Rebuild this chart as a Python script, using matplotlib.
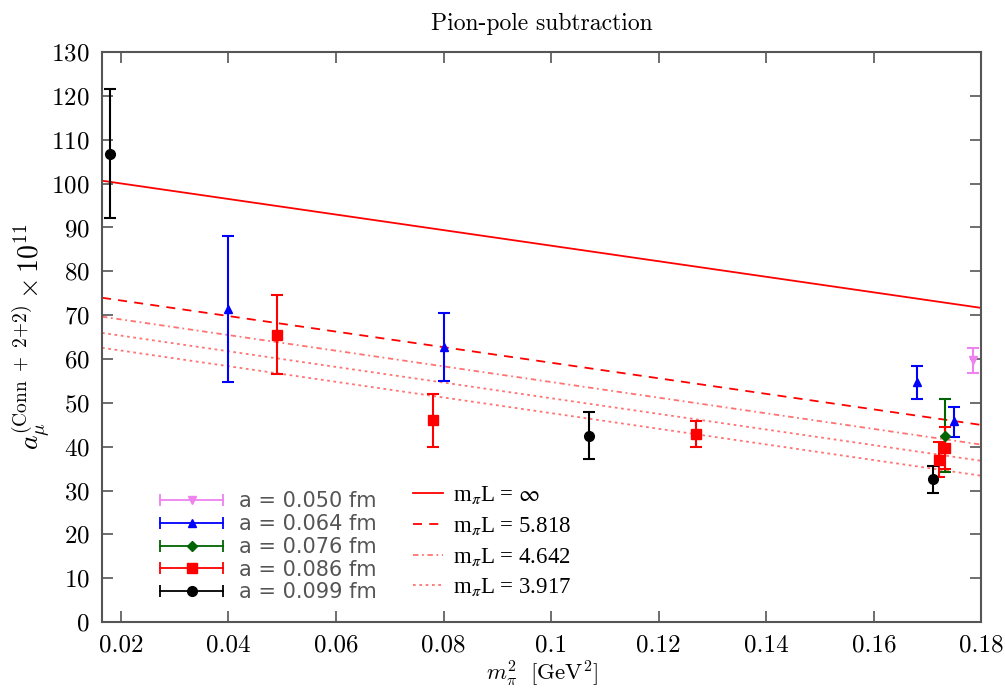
import matplotlib
matplotlib.use("Agg")
import matplotlib.pyplot as plt
from matplotlib.font_manager import FontProperties
from matplotlib.ticker import FuncFormatter
from matplotlib.legend_handler import HandlerBase
from matplotlib.lines import Line2D
from matplotlib.container import ErrorbarContainer
import numpy as np

plt.rcParams['mathtext.fontset'] = 'cm'
plt.rcParams['axes.formatter.use_mathtext'] = True

# data per lattice spacing: x = m_pi^2, y, lower err, upper err
ens_labels = ["a = 0.050 fm", "a = 0.064 fm", "a = 0.076 fm", "a = 0.086 fm", "a = 0.099 fm"]
ens_colors = ["violet", "blue", "darkgreen", "red", "black"]
ens_markers = ["v", "^", "D", "s", "o"]
ens_msize = [6, 6, 5, 7, 7]

x_050 = [0.1785]
y_050 = [59.8]
elo_050 = [3.0]
ehi_050 = [2.8]

x_064 = [0.040, 0.080, 0.168, 0.175]
y_064 = [71.5, 62.8, 54.8, 45.8]
elo_064 = [16.7, 7.9, 3.9, 3.6]
ehi_064 = [16.5, 7.6, 3.6, 3.2]

x_076 = [0.1733]
y_076 = [42.5]
elo_076 = [8.3]
ehi_076 = [8.3]

x_086 = [0.049, 0.078, 0.127, 0.1722, 0.1732]
y_086 = [65.5, 46.0, 42.9, 37.0, 39.7]
elo_086 = [9.0, 6.0, 3.0, 4.0, 4.8]
ehi_086 = [9.0, 6.0, 3.0, 4.0, 4.8]

x_099 = [0.018, 0.107, 0.171]
y_099 = [106.8, 42.5, 32.7]
elo_099 = [14.6, 5.2, 3.2]
ehi_099 = [14.7, 5.3, 2.9]

ens_data = [
    (x_050, y_050, elo_050, ehi_050),
    (x_064, y_064, elo_064, ehi_064),
    (x_076, y_076, elo_076, ehi_076),
    (x_086, y_086, elo_086, ehi_086),
    (x_099, y_099, elo_099, ehi_099),
]

# fit lines y = b0 + b1 * x for several volumes
fit_labels = [r"m$_\pi$L = $\infty$", r"m$_\pi$L = 5.818", r"m$_\pi$L = 4.642", r"m$_\pi$L = 3.917", None]
fit_b0 = [103.6, 76.9, 72.6, 68.9, 65.5]
fit_b1 = [-177.5, -177.5, -178.5, -178.5, -178.5]
fit_styles = ["-", (0, (5, 4)), (0, (3, 2, 1, 2)), (0, (1.5, 2)), (0, (1.5, 2))]
fit_alpha = [1.0, 1.0, 0.55, 0.55, 0.55]


class HorizErrHandler(HandlerBase):
    # legend entry drawn as a horizontal error bar with end caps
    def create_artists(self, legend, orig_handle, xdescent, ydescent,
                       width, height, fontsize, trans):
        src = orig_handle.lines[0]
        c = src.get_color()
        y = height / 2 - ydescent
        x0, x1 = -xdescent, width - xdescent
        bar = Line2D([x0, x1], [y, y], color=c, lw=1.3, transform=trans)
        caps = Line2D([x0, x1], [y, y], ls="none", marker="|", ms=9, mew=1.3,
                      color=c, transform=trans)
        mk = Line2D([(x0 + x1) / 2], [y], ls="none", marker=src.get_marker(),
                    ms=src.get_markersize(), color=c, transform=trans)
        return [bar, caps, mk]


fig = plt.figure(figsize=(10.05, 6.95), dpi=100)
ax = fig.add_axes([0.1015, 0.105, 0.875, 0.82])

xmin, xmax = 0.0165, 0.18
xx = np.linspace(xmin, xmax, 50)
fit_handles = []
for b0, b1, ls, al, lab in zip(fit_b0, fit_b1, fit_styles, fit_alpha, fit_labels):
    h, = ax.plot(xx, b0 + b1 * xx, color="red", ls=ls, lw=1.3, alpha=al)
    if lab is not None:
        fit_handles.append((h, lab))

ens_handles = []
for (xs, ys, lo, hi), lab, c, m, ms in zip(ens_data, ens_labels, ens_colors, ens_markers, ens_msize):
    h = ax.errorbar(xs, ys, yerr=[lo, hi], fmt=m, color=c, ms=ms, capsize=4.5,
                    elinewidth=1.5, capthick=1.5, label=lab)
    ens_handles.append(h)

ax.set_xlim(xmin, xmax)
ax.set_ylim(0, 130)
ax.set_xticks(np.arange(0.02, 0.181, 0.02))
ax.set_yticks(np.arange(0, 131, 10))
ax.xaxis.set_major_formatter(FuncFormatter(lambda v, p: "%g" % round(v, 3)))
ax.tick_params(direction="in", top=True, right=True, length=8, width=1.2,
               color="#555555", labelsize=18, pad=9)
for lab in ax.get_xticklabels() + ax.get_yticklabels():
    lab.set_fontfamily("cmr10")
for sp in ax.spines.values():
    sp.set_color("#555555")
    sp.set_linewidth(1.5)

ax.set_title("Pion-pole subtraction", fontfamily="cmr10", fontsize=17, pad=16)
ax.set_xlabel(r"$m_\pi^2\ \ [\mathrm{GeV}^2]$", fontsize=16.5, labelpad=2)
ax.set_ylabel(r"$a_\mu^{(\mathrm{Conn}\ +\ 2{+}2)}\times 10^{11}$", fontsize=20, labelpad=0)

leg1 = ax.legend(handles=ens_handles, loc="upper left", bbox_to_anchor=(0.045, 0.262),
                 frameon=False, handlelength=3.0, labelspacing=0.13, handletextpad=0.8,
                 handler_map={ErrorbarContainer: HorizErrHandler()},
                 prop=FontProperties(family="DejaVu Sans", size=15))
for t in leg1.get_texts():
    t.set_color("#555555")
ax.add_artist(leg1)

leg2 = ax.legend(handles=[h for h, _ in fit_handles], labels=[l for _, l in fit_handles],
                 loc="upper left", bbox_to_anchor=(0.33, 0.278), frameon=False,
                 handlelength=1.3, labelspacing=0.38, handletextpad=0.45,
                 prop=FontProperties(family="Liberation Serif", size=16.5, math_fontfamily="stix"))

fig.savefig("out.png", dpi=100)
